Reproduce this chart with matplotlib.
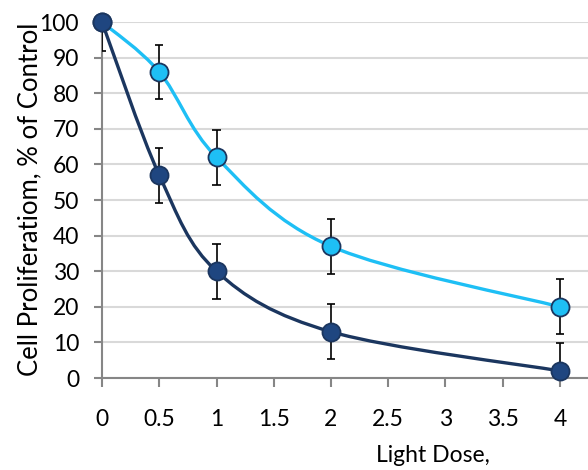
import numpy as np
import matplotlib.pyplot as plt
from matplotlib.path import Path
from matplotlib.patches import PathPatch

# data
dose = [0, 0.5, 1, 2, 4]
light_vals = [100, 86, 62, 37, 20]
light_err = [0, 7.7, 7.7, 7.7, 7.7]
dark_vals = [100, 57, 30, 13, 2]
dark_err = [8, 7.7, 7.7, 7.7, 7.7]
xticks = [0, 0.5, 1, 1.5, 2, 2.5, 3, 3.5, 4]
yticks = list(range(0, 101, 10))

light_col = '#1EBFF5'
dark_col = '#1B365F'
dark_face = '#1F4680'

plt.rcParams['font.family'] = ['Lato', 'DejaVu Sans']


def smooth_path(xs, ys):
    # Excel style smoothed line: cubic bezier with catmull-rom control points
    pts = np.column_stack([xs, ys]).astype(float)
    verts = [pts[0]]
    codes = [Path.MOVETO]
    n = len(pts)
    for i in range(n - 1):
        p0 = pts[i - 1] if i > 0 else pts[i]
        p1 = pts[i]
        p2 = pts[i + 1]
        p3 = pts[i + 2] if i + 2 < n else pts[i + 1]
        c1 = p1 + (p2 - p0) / 6
        c2 = p2 - (p3 - p1) / 6
        verts += [c1, c2, p2]
        codes += [Path.CURVE4] * 3
    return Path(verts, codes)


fig = plt.figure(figsize=(5.88, 4.70), dpi=100)
ax = fig.add_axes([0.1735, 0.1957, 0.8265, 0.7573])

cap = 0.036
for v, e, c, face, z in [(light_vals, light_err, light_col, light_col, 3),
                         (dark_vals, dark_err, dark_col, dark_face, 4)]:
    v = np.array(v, float)
    e = np.array(e, float)
    x = np.array(dose, float)
    ax.add_patch(PathPatch(smooth_path(x, v), fill=False, edgecolor=c,
                           lw=2.4, zorder=z))
    ax.vlines(x, v - e, v + e, color='black', lw=1.2, zorder=z + 2)
    m = e > 0
    ax.hlines(np.r_[v[m] - e[m], v[m] + e[m]], np.r_[x[m], x[m]] - cap,
              np.r_[x[m], x[m]] + cap, color='black', lw=1.2, zorder=z + 2)
    ax.plot(x, v, 'o', ms=13, mfc=face, mec=dark_col, mew=1.3,
            zorder=z + 3, clip_on=False)

ax.set_xlim(0, 4.245)
ax.set_ylim(0, 100)
ax.set_xticks(xticks)
ax.set_xticklabels([f'{t:g}' for t in xticks])
ax.set_yticks(yticks)
ax.grid(axis='y', color='#D9D9D9', lw=1.5)
ax.set_axisbelow(True)
for s in ['top', 'right']:
    ax.spines[s].set_visible(False)
for s in ['left', 'bottom']:
    ax.spines[s].set_color('#868686')
    ax.spines[s].set_linewidth(1.5)
ax.tick_params(axis='x', length=6.5, width=1.5, color='#868686', labelsize=16.5, pad=16)
ax.tick_params(axis='y', length=5.5, width=1.5, color='#868686', labelsize=16.5, pad=11)

fig.text(0.05, 0.575, 'Cell Proliferatiom, % of Control', rotation=90,
         fontsize=18.5, ha='center', va='center')
fig.text(0.736, 0.017, 'Light Dose,', fontsize=16.5, ha='center', va='baseline')

fig.savefig('out.png', dpi=100)
